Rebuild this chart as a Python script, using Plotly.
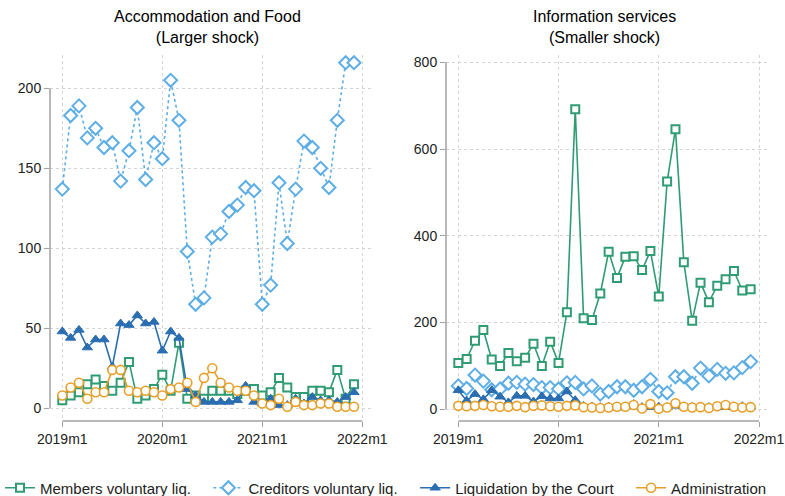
import plotly.graph_objects as go

# ---------------- data ----------------
months = [f"{2019 + k // 12}m{k % 12 + 1}" for k in range(36)]
x_idx = list(range(len(months)))
tick_pos = [0, 12, 24, 36]
tick_labels = ["2019m1", "2020m1", "2021m1", "2022m1"]

members_L = [5, 8, 10, 15, 18, 14, 11, 16, 29, 6, 8, 12, 21, 11, 41, 6, 8, 6,
             11, 11, 11, 9, 11, 12, 8, 10, 19, 13, 7, 7, 11, 11, 10, 24, 6, 15]
creditors_L = [137, 183, 189, 169, 175, 163, 166, 142, 161, 188, 143, 166, 156, 205, 180, 98, 65, 69,
               107, 109, 123, 127, 138, 136, 65, 77, 141, 103, 137, 167, 163, 150, 138, 180, 216, 216]
court_L = [48, 44, 49, 38, 43, 43, 26, 53, 52, 58, 53, 54, 36, 48, 44, 12, 8, 4,
           4, 4, 4, 5, 14, 4, 3, 6, 2, 2, 6, 3, 7, 5, 5, 4, 7, 10]
admin_L = [8, 13, 16, 6, 10, 10, 24, 24, 11, 10, 11, 10, 8, 12, 13, 16, 4, 19,
           25, 16, 13, 11, 11, 8, 3, 2, 6, 1, 4, 2, 2, 3, 3, 1, 1, 1]

members_R = [107, 116, 158, 183, 115, 100, 130, 111, 119, 151, 100, 156, 107, 224, 692, 210, 206, 267,
             363, 303, 352, 353, 321, 365, 260, 525, 646, 339, 204, 292, 247, 285, 300, 319, 274, 277]
creditors_R = [54, 48, 79, 65, 45, 47, 60, 62, 58, 57, 50, 50, 47, 61, 62, 47, 54, 35,
               41, 52, 52, 44, 52, 69, 41, 38, 75, 75, 60, 95, 77, 92, 83, 84, 96, 110]
court_R = [44, 20, 35, 23, 44, 29, 16, 31, 31, 18, 30, 25, 25, 41, 21, 8, 6, 5,
           6, 4, 6, 12, 5, 5, 6, 5, 8, 6, 5, 5, 5, 6, 5, 5, 7, 6]
admin_R = [8, 7, 8, 10, 7, 6, 6, 8, 5, 8, 9, 7, 6, 8, 9, 5, 4, 3,
           4, 6, 6, 10, 2, 12, 1, 4, 14, 6, 4, 5, 3, 7, 10, 6, 4, 5]

series_names = ["Members voluntary liq.", "Creditors voluntary liq.",
                "Liquidation by the Court", "Administration"]
yticks_L = [0, 50, 100, 150, 200]
yticks_R = [0, 200, 400, 600, 800]
titles = ["Accommodation and Food<br>(Larger shock)", "Information services<br>(Smaller shock)"]

# ---------------- styles ----------------
C_GREEN = "#2f9c73"
C_SKY = "#5eaee6"
C_BLUE = "#2a6db0"
C_ORANGE = "#e6a02a"
FONT = "Liberation Sans, Arial, Helvetica, sans-serif"
W, H = 785, 496
MB = 40  # bottom margin (legend lives there)
PH = H - MB  # plot-area height in px
PAD = "\u00a0" * 3  # spacing after legend labels

styles = [
    dict(line=dict(color=C_GREEN, width=1.6),
         marker=dict(symbol="square", size=8, color="white", line=dict(color=C_GREEN, width=2))),
    dict(line=dict(color=C_SKY, width=1.6, dash="dot"),
         marker=dict(symbol="diamond", size=10, color="white", line=dict(color=C_SKY, width=2))),
    dict(line=dict(color=C_BLUE, width=1.6),
         marker=dict(symbol="triangle-up", size=9, color=C_BLUE, line=dict(color=C_BLUE, width=1))),
    dict(line=dict(color=C_ORANGE, width=1.6),
         marker=dict(symbol="circle", size=9, color="white", line=dict(color=C_ORANGE, width=1.6))),
]

fig = go.Figure()
for panel, data in enumerate([(members_L, creditors_L, court_L, admin_L),
                              (members_R, creditors_R, court_R, admin_R)]):
    xa = "x" if panel == 0 else "x2"
    ya = "y" if panel == 0 else "y2"
    for k, vals in enumerate(data):
        label = series_names[k] + (PAD if k < 3 else "")
        fig.add_trace(go.Scatter(
            x=x_idx, y=vals, mode="lines+markers", name=label,
            xaxis=xa, yaxis=ya, showlegend=(panel == 0), legendrank=k + 1,
            line=styles[k]["line"], marker=styles[k]["marker"],
        ))

# pixel geometry helpers (paper = plot area: full width, top PH px)
def px_x(p):
    return p / W

def px_y(p):
    return (PH - p) / PH

ybot, ytop = 421, 55
axis_common = dict(
    ticks="outside", ticklen=5, tickwidth=1.3, tickcolor="#a0a0a0",
    showline=False, zeroline=False, showgrid=True, automargin=False,
    gridcolor="#d4d4d4", griddash="dot", gridwidth=1,
    tickfont=dict(family=FONT, size=14, color="#222"),
)

# left panel: x 2019m1 at px 62.3, 2022m1 at 362.3; domain 50..373
sxL = 300 / 36
fig.update_layout(
    xaxis=dict(domain=[px_x(50), px_x(373)], anchor="y",
               range=[-(62.3 - 50) / sxL, 36 + (373 - 362.3) / sxL],
               tickvals=tick_pos, ticktext=tick_labels, **axis_common),
    yaxis=dict(domain=[px_y(ybot), px_y(ytop)], anchor="x",
               range=[-(ybot - 408.3) / 1.6, (408.3 - ytop) / 1.6],
               tickvals=yticks_L, **axis_common),
)
# right panel: 2019m1 at 458.3, 2022m1 at 759; domain 446..770 ; 0 at 409.3, 0.4337 px/unit
sxR = (759 - 458.3) / 36
syR = 0.4337
fig.update_layout(
    xaxis2=dict(domain=[px_x(446), px_x(770)], anchor="y2",
                range=[-(458.3 - 446) / sxR, 36 + (770 - 759) / sxR],
                tickvals=tick_pos, ticktext=tick_labels, **axis_common),
    yaxis2=dict(domain=[px_y(ybot), px_y(ytop)], anchor="x2",
                range=[-(ybot - 409.3) / syR, (409.3 - ytop) / syR],
                tickvals=yticks_R, **axis_common),
)

# axis lines spanning only the tick range (Stata style)
shapes = []
for xa, ya, yt in [("x", "y", yticks_L), ("x2", "y2", yticks_R)]:
    shapes.append(dict(type="line", xref=f"{xa} domain", yref=ya, x0=0, x1=0,
                       y0=yt[0], y1=yt[-1], line=dict(color="#a0a0a0", width=1.5), layer="above"))
    shapes.append(dict(type="line", xref=xa, yref=f"{ya} domain", x0=tick_pos[0], x1=tick_pos[-1],
                       y0=0, y1=0, line=dict(color="#a0a0a0", width=1.5), layer="above"))

annotations = [
    dict(text=titles[0], x=px_x(207), y=px_y(6), xref="paper", yref="paper",
         xanchor="center", yanchor="top", showarrow=False,
         font=dict(family=FONT, size=16, color="black")),
    dict(text=titles[1], x=px_x(604), y=px_y(6), xref="paper", yref="paper",
         xanchor="center", yanchor="top", showarrow=False,
         font=dict(family=FONT, size=16, color="black")),
]

fig.update_layout(
    width=W, height=H,
    margin=dict(l=0, r=0, t=0, b=MB, pad=0, autoexpand=False),
    paper_bgcolor="white", plot_bgcolor="white",
    shapes=shapes, annotations=annotations,
    legend=dict(orientation="h", x=0, xanchor="left", y=px_y(488), yanchor="middle",
                font=dict(family=FONT, size=15, color="#222"),
                itemwidth=30, traceorder="normal",
                bgcolor="rgba(0,0,0,0)"),
    font=dict(family=FONT),
)

fig.write_html("out.html", config={"displayModeBar": False},
               post_script="document.body.style.margin='0px';")
